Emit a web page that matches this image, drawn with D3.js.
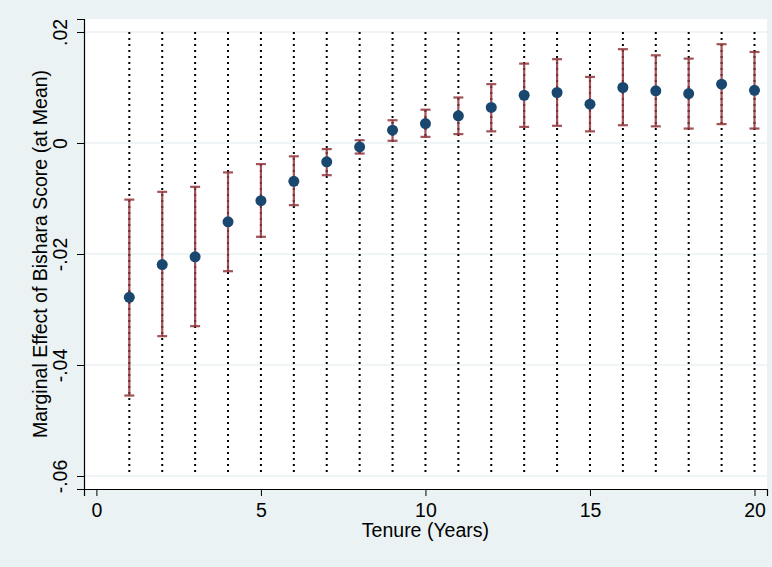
<!DOCTYPE html>
<html>
<head>
<meta charset="utf-8">
<script src="https://cdn.jsdelivr.net/npm/d3@7"></script>
<style>
  body { margin: 0; background: #eaf2f3; }
  text { font-family: "Liberation Sans", Arial, Helvetica, sans-serif; fill: #000; }
</style>
</head>
<body>
<div id="chart"></div>
<script>
// tenure in years and marginal effect with its 95% CI
const tenure = [1, 2, 3, 4, 5, 6, 7, 8, 9, 10, 11, 12, 13, 14, 15, 16, 17, 18, 19, 20];
const effect = [-0.0278, -0.0219, -0.0205, -0.0142, -0.0104, -0.0069, -0.0034, -0.0007, 0.0023, 0.0035,
                0.0049, 0.0064, 0.0086, 0.0091, 0.0070, 0.0100, 0.0094, 0.0089, 0.0106, 0.0095];
const ciHigh = [-0.0102, -0.0088, -0.0079, -0.0053, -0.0038, -0.0024, -0.0011, 0.0005, 0.0041, 0.0060,
                0.0082, 0.0106, 0.0143, 0.0151, 0.0119, 0.0169, 0.0158, 0.0152, 0.0178, 0.0164];
const ciLow  = [-0.0455, -0.0348, -0.0330, -0.0231, -0.0169, -0.0112, -0.0058, -0.0019, 0.0004, 0.0011,
                0.0016, 0.0021, 0.0029, 0.0031, 0.0021, 0.0032, 0.0030, 0.0026, 0.0034, 0.0026];
const xTicks = [0, 5, 10, 15, 20];
const yTicks = [0.02, 0, -0.02, -0.04, -0.06];
const yTickLabels = [".02", "0", "-.02", "-.04", "-.06"];

const W = 772, H = 567;
const margin = {top: 19, right: 5, bottom: 78, left: 84};
const width = W - margin.left - margin.right,
      height = H - margin.top - margin.bottom;
const fontSize = "19.5px";

const svg = d3.select("#chart").append("svg")
  .attr("width", W)
  .attr("height", H);

svg.append("rect").attr("width", W).attr("height", H).attr("fill", "#eaf2f3");

const g = svg.append("g")
  .attr("transform", `translate(${margin.left},${margin.top})`);

g.append("rect").attr("width", width).attr("height", height).attr("fill", "#fff");

const x = d3.scaleLinear().domain([-0.377, 20.38]).range([0, width]);
const y = d3.scaleLinear().domain([-0.06234, 0.02234]).range([height, 0]);

// horizontal grid
g.selectAll(".grid")
  .data(yTicks)
  .join("line")
    .attr("x1", 0).attr("x2", width)
    .attr("y1", d => y(d)).attr("y2", d => y(d))
    .attr("stroke", "#eaf2f3")
    .attr("stroke-width", 1.5);

const data = tenure.map((t, i) => ({t: t, v: effect[i], lo: ciLow[i], hi: ciHigh[i]}));

// dotted reference lines
g.selectAll(".dots").data(tenure).join("line")
  .attr("x1", d => x(d)).attr("x2", d => x(d))
  .attr("y1", y(0.02)).attr("y2", y(-0.06))
  .attr("stroke", "#000")
  .attr("stroke-width", 2)
  .attr("stroke-dasharray", "2,4");

// confidence intervals
const ci = g.append("g").attr("stroke", "#90353b").attr("stroke-width", 2.2).attr("stroke-opacity", 0.85);
ci.selectAll(".bar").data(data).join("line")
  .attr("class", "bar")
  .attr("x1", d => x(d.t)).attr("x2", d => x(d.t))
  .attr("y1", d => y(d.lo)).attr("y2", d => y(d.hi));
ci.selectAll(".capHi").data(data).join("line")
  .attr("class", "capHi")
  .attr("x1", d => x(d.t) - 5).attr("x2", d => x(d.t) + 5)
  .attr("y1", d => y(d.hi)).attr("y2", d => y(d.hi));
ci.selectAll(".capLo").data(data).join("line")
  .attr("class", "capLo")
  .attr("x1", d => x(d.t) - 5).attr("x2", d => x(d.t) + 5)
  .attr("y1", d => y(d.lo)).attr("y2", d => y(d.lo));

// point estimates
g.selectAll("circle").data(data).join("circle")
  .attr("cx", d => x(d.t))
  .attr("cy", d => y(d.v))
  .attr("r", 5.5)
  .attr("fill", "#1a476f");

// x axis
const xAxis = g.append("g")
  .attr("transform", `translate(0,${height})`)
  .call(d3.axisBottom(x).tickValues(xTicks).tickSize(7).tickPadding(7).tickFormat(d3.format("d")));
xAxis.select(".domain").attr("stroke", "#000").attr("stroke-width", 1.2);
xAxis.selectAll("text").style("font-size", fontSize).attr("fill", "#000");

// y axis
const yAxis = g.append("g")
  .call(d3.axisLeft(y).tickValues(yTicks).tickSize(7).tickFormat((d, i) => yTickLabels[i]));
yAxis.select(".domain").attr("stroke", "#000").attr("stroke-width", 1.2);
yAxis.selectAll("text")
  .style("font-size", fontSize)
  .attr("fill", "#000")
  .attr("x", null).attr("dy", null)
  .attr("text-anchor", "middle")
  .attr("transform", "translate(-17,0) rotate(-90)");

// titles
svg.append("text")
  .attr("x", margin.left + x(10))
  .attr("y", 537)
  .attr("text-anchor", "middle")
  .style("font-size", fontSize)
  .text("Tenure (Years)");

svg.append("text")
  .attr("transform", `translate(47,${margin.top + y(-0.02)}) rotate(-90)`)
  .attr("text-anchor", "middle")
  .style("font-size", fontSize)
  .text("Marginal Effect of Bishara Score (at Mean)");
</script>
</body>
</html>
